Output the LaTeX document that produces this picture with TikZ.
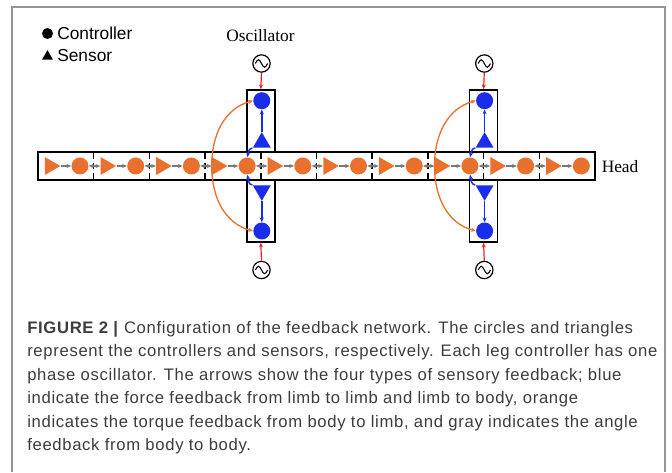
\documentclass[tikz,border=0pt]{standalone}
\usepackage{fontspec}
\setmainfont{Liberation Serif}
\setsansfont{Liberation Sans}
\newfontfamily\capfont[LetterSpace=4]{Liberation Sans}
\usetikzlibrary{arrows.meta,shapes.geometric}
\definecolor{ctrlblue}{RGB}{25,45,235}
\definecolor{bodyorange}{RGB}{233,113,45}
\definecolor{fbgray}{RGB}{120,120,120}
\definecolor{oscred}{RGB}{235,35,35}
\definecolor{framegray}{RGB}{150,150,150}
\definecolor{captext}{RGB}{60,60,60}
\begin{document}
\begin{tikzpicture}[x=0.75pt,y=0.75pt,
  boxsty/.style={draw=black, line width=1.1pt, fill=white, inner sep=0pt},
  bcirc/.style={circle, fill=bodyorange, minimum size=12.75pt, inner sep=0pt},
  btri/.style={regular polygon, regular polygon sides=3, shape border rotate=-90, fill=bodyorange, minimum size=15.5pt, inner sep=0pt},
  lcirc/.style={circle, fill=ctrlblue, minimum size=12.75pt, inner sep=0pt},
  ltriup/.style={regular polygon, regular polygon sides=3, fill=ctrlblue, minimum size=15.5pt, inner sep=0pt},
  ltridown/.style={ltriup, shape border rotate=180},
  osc/.style={circle, draw=black, line width=0.9pt, minimum size=13pt, inner sep=0pt},
  tip/.style={-{Stealth[length=3.6pt,width=3pt]}},
  garr/.style={tip, draw=fbgray, line width=0.9pt},
  garrboth/.style={{Stealth[length=3.6pt,width=3pt]}-{Stealth[length=3.6pt,width=3pt]}, draw=fbgray, line width=0.9pt},
  barr/.style={tip, draw=ctrlblue, line width=1.1pt},
  oarr/.style={tip, draw=bodyorange, line width=1pt},
  rarr/.style={tip, draw=oscred, line width=0.9pt},
  seam/.style={draw=black, line width=1.1pt, dash pattern=on 5pt off 3pt},
  legsym/.style={fill=black, inner sep=0pt},
]
\useasboundingbox (0,0) rectangle (672,472);

% outer frame (open at the bottom)
\draw[framegray, line width=1.1pt] (12,0) -- (12,465) -- (665,465) -- (665,0);

% legend
\node[legsym, circle, minimum size=8.25pt] (legc) at (47.5,438.5) {};
\node[anchor=west, inner sep=0pt, font=\sffamily\fontsize{13}{15}\selectfont] (legctext) at (57,438.5) {Controller};
\node[legsym, regular polygon, regular polygon sides=3, minimum size=9.5pt] (legt) at (47.5,415.5) {};
\node[anchor=west, inner sep=0pt, font=\sffamily\fontsize{13}{15}\selectfont] (legttext) at (57,416.5) {Sensor};

% body strip and leg boxes
\node[boxsty, minimum width=21pt, minimum height=46.5pt] (lbt1) at (260.8,351) {};
\node[boxsty, minimum width=21pt, minimum height=46.5pt] (lbb1) at (260.8,261) {};
\node[boxsty, minimum width=21pt, minimum height=46.5pt] (lbt2) at (483.6,351) {};
\node[boxsty, minimum width=21pt, minimum height=46.5pt] (lbb2) at (483.6,261) {};
\node[boxsty, minimum width=417.75pt, minimum height=21pt] (body) at (316.5,306) {};

% segment seams
\foreach \k in {1,...,9}{
  \draw[seam] ({38+\k*55.7},292) -- ({38+\k*55.7},320);
}

% body segments: sensor then controller
\foreach \k in {1,...,10}{
  \pgfmathsetmacro\sx{38+(\k-1)*55.7}
  \node[btri] (t\k) at ({\sx+12},306) {};
  \node[bcirc] (c\k) at ({\sx+42},306) {};
  \draw[garr] (t\k.east) -- (c\k.west);
}
\foreach \k [evaluate=\k as \n using int(\k+1)] in {1,...,9}{
  \draw[garrboth] (c\k.east) -- (t\n.west);
}

\node[anchor=west, inner sep=0pt, font=\fontsize{13}{15}\selectfont] (head) at (601.5,305.5) {Head};
\node[inner sep=0pt, font=\fontsize{13}{15}\selectfont] (osclabel) at (260.5,436) {Oscillator};

% legs: controller, sensor, oscillator
\foreach \i/\lx/\bt in {1/260.8/4, 2/483.6/8}{
  \node[lcirc] (lct\i) at (\lx+1,371.3) {};
  \node[ltriup] (ut\i) at (\lx+1,329.5) {};
  \node[lcirc] (lcb\i) at (\lx+1,241) {};
  \node[ltridown] (dt\i) at (\lx+1,281.5) {};
  \node[osc] (ot\i) at (\lx+0.7,408.5) {};
  \node[osc] (ob\i) at (\lx+0.7,202) {};
  \draw[line width=0.8pt] ([xshift=-4.6pt]ot\i.center) sin ++(2.3pt,2.8pt) cos ++(2.3pt,-2.8pt) sin ++(2.3pt,-2.8pt) cos ++(2.3pt,2.8pt);
  \draw[line width=0.8pt] ([xshift=-4.6pt]ob\i.center) sin ++(2.3pt,2.8pt) cos ++(2.3pt,-2.8pt) sin ++(2.3pt,-2.8pt) cos ++(2.3pt,2.8pt);
  \draw[rarr] (ot\i.south) -- (lbt\i.north);
  \draw[rarr] (ob\i.north) -- (lbb\i.south);
  \draw[barr] (ut\i.corner 1) -- (lct\i.south);
  \draw[barr] (dt\i.corner 1) -- (lcb\i.north);
  \draw[barr] (ut\i.corner 2) to[out=190,in=75] (c\bt.north);
  \draw[barr] (dt\i.corner 3) to[out=170,in=-75] (c\bt.south);
  \draw[oarr] (t\bt.west) to[out=90,in=195] (lct\i.west);
  \draw[oarr] (t\bt.west) to[out=-90,in=165] (lcb\i.west);
}

% caption
\node[anchor=north west, inner sep=0pt, align=left, text=captext,
      font=\capfont\fontsize{12.5}{17.6}\selectfont] (caption) at (27,151)
{\textbf{FIGURE 2 |} Configuration of the feedback network. The circles and triangles\\
represent the controllers and sensors, respectively. Each leg controller has one\\
phase oscillator. The arrows show the four types of sensory feedback; blue\\
indicate the force feedback from limb to limb and limb to body, orange\\
indicates the torque feedback from body to limb, and gray indicates the angle\\
feedback from body to body.};
\end{tikzpicture}
\end{document}
